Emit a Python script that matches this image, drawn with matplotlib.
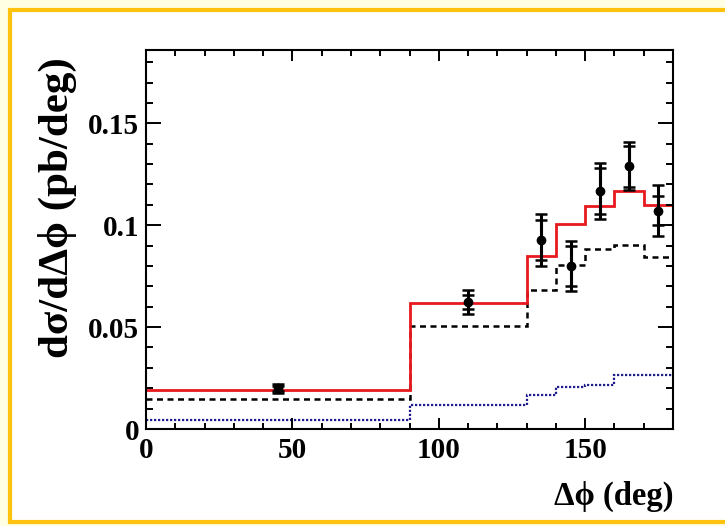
import matplotlib
matplotlib.use("Agg")
import matplotlib.pyplot as plt
from matplotlib.patches import Rectangle
from matplotlib.ticker import MultipleLocator

# bin edges in delta phi (deg)
edges = [0, 90, 130, 140, 150, 160, 170, 180]

# model curves (pb/deg)
total = [0.0190, 0.0620, 0.0850, 0.1008, 0.1093, 0.1170, 0.1101]
dashed = [0.0146, 0.0505, 0.0681, 0.0807, 0.0881, 0.0905, 0.0845]
dotted = [0.0044, 0.0116, 0.0165, 0.0204, 0.0216, 0.0265, 0.0265]

# measured points
pt_x = [45, 110, 135, 145, 155, 165, 175]
pt_y = [0.0200, 0.0624, 0.0928, 0.0800, 0.1168, 0.1289, 0.1072]
err_stat = [0.0012, 0.0035, 0.0100, 0.0100, 0.0115, 0.0100, 0.0072]
err_tot = [0.0022, 0.0060, 0.0128, 0.0123, 0.0135, 0.0118, 0.0127]

serif = ["Liberation Serif", "DejaVu Serif"]

fig = plt.figure(figsize=(7.25, 5.26), dpi=100, facecolor="#FFFFE4")
# white panel with gold frame, kept behind the axes
fig.patches.append(Rectangle((10 / 725, 4 / 526), 1.2, 512 / 526,
                             transform=fig.transFigure, facecolor="white",
                             edgecolor="#FFC20E", linewidth=3, zorder=-5))

ax = fig.add_axes([146 / 725, 1 - 429 / 526, 527 / 725, 379 / 526])
ax.set_zorder(2)

ax.stairs(dotted, edges, baseline=None, color="#1c1c8e", lw=1.6,
          linestyle=(0, (1, 0.8)))
ax.stairs(dashed, edges, baseline=None, color="black", lw=1.8,
          linestyle=(0, (2.4, 1.8)))
ax.stairs(total, edges, baseline=None, color="#e8191e", lw=2.0)

ax.errorbar(pt_x, pt_y, yerr=err_tot, fmt="o", color="black", ms=6,
            elinewidth=2.2, capsize=4, capthick=1.8)
ax.errorbar(pt_x, pt_y, yerr=err_stat, fmt="none", ecolor="black",
            elinewidth=2.2, capsize=4, capthick=1.8)

ax.set_xlim(0, 180)
ax.set_ylim(0, 0.186)
ax.xaxis.set_major_locator(MultipleLocator(50))
ax.xaxis.set_minor_locator(MultipleLocator(10))
ax.yaxis.set_major_locator(MultipleLocator(0.05))
ax.yaxis.set_minor_locator(MultipleLocator(0.01))
ax.tick_params(which="both", direction="in", top=True, right=True, width=1.4)
ax.tick_params(axis="x", which="major", length=8, pad=6)
ax.tick_params(axis="x", which="minor", length=4.3)
ax.tick_params(axis="y", which="major", length=11, pad=5)
ax.tick_params(axis="y", which="minor", length=5.3)
for s in ax.spines.values():
    s.set_linewidth(1.5)

ax.set_xticks([0, 50, 100, 150])
ax.set_xticklabels(["0", "50", "100", "150"])
ax.set_yticks([0, 0.05, 0.1, 0.15])
ax.set_yticklabels(["0", "0.05", "0.1", "0.15"])
for lab in ax.get_xticklabels() + ax.get_yticklabels():
    lab.set_family(serif)
    lab.set_fontweight("bold")
    lab.set_fontsize(21)

ax.set_xlabel("Δϕ (deg)", family=serif, fontweight="bold", fontsize=23.5)
ax.xaxis.set_label_coords(1.0, -0.178)
ax.xaxis.label.set_horizontalalignment("right")
ax.xaxis.label.set_verticalalignment("center")
ax.set_ylabel("dσ/dΔϕ (pb/deg)", family=serif, fontweight="bold", fontsize=31)
ax.yaxis.set_label_coords(-0.168, 0.585)
ax.yaxis.label.set_horizontalalignment("center")
ax.yaxis.label.set_verticalalignment("center")

fig.savefig("out.png", dpi=100, facecolor=fig.get_facecolor())
